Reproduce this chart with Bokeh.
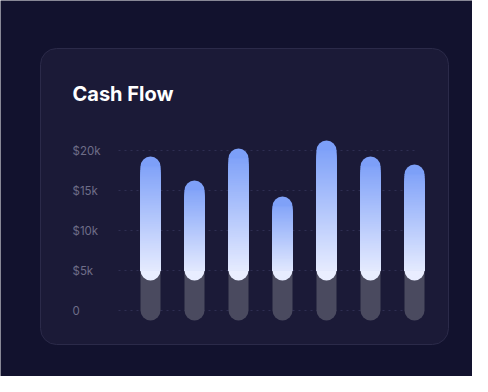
import numpy as np
from bokeh.plotting import figure
from bokeh.models import Range1d, BoxAnnotation, Label, ColumnDataSource
from bokeh.core.properties import value
from bokeh.embed import file_html
from bokeh.resources import INLINE

# ---- data ----
values = [18000, 15000, 19000, 13000, 20000, 18000, 17000]
base = [5000, 5000, 5000, 5000, 5000, 5000, 5000]
tick_values = [0, 5000, 10000, 15000, 20000]
tick_labels = ["0", "$5k", "$10k", "$15k", "$20k"]
title_text = "Cash Flow"

# ---- layout (figure pixel space) ----
W, H = 472, 376
PX_X = 44.0      # px per bar slot
X0 = 150.0       # px of first bar centre
PX_Y = 0.008     # px per dollar
Y0 = 310.0       # px of zero line
BAR_PX = 20
CAP = (BAR_PX / 2) / PX_Y   # cap radius in dollars


def xd(px):
    return (px - X0) / PX_X


def yd(px):
    return (Y0 - px) / PX_Y


p = figure(width=W, height=H, output_backend="svg", toolbar_location=None,
           x_range=Range1d(xd(0), xd(W)), y_range=Range1d(yd(H), yd(0)),
           x_axis_location=None, y_axis_location=None,
           min_border=0, min_border_left=0, min_border_right=0,
           min_border_top=0, min_border_bottom=0)
p.grid.visible = False
p.outline_line_color = None
p.background_fill_color = "#12122e"
p.border_fill_color = "#12122e"

# card
card = BoxAnnotation(left=xd(40), right=xd(448), top=yd(48), bottom=yd(344),
                     fill_color="#1b1a37", fill_alpha=1.0,
                     line_color="#2b2a49", line_alpha=1.0, line_width=1,
                     border_radius=16, level="underlay")
p.add_layout(card)

# title
p.add_layout(Label(x=xd(72), y=yd(93), text=title_text, text_font="Inter",
                   text_font_size="20px", text_font_style="bold",
                   text_color="#ffffff", text_baseline="alphabetic",
                   text_align="left"))

# grid lines
n_t = len(tick_values)
p.segment(x0=[xd(118)] * n_t, x1=[xd(416)] * n_t, y0=tick_values, y1=tick_values,
          line_color="#2f2e52", line_width=1, line_dash="2 4")

# tick labels
p.text(x=[xd(72)] * n_t, y=tick_values, text=tick_labels,
       text_font=value("Inter"), text_font_size="11.5px",
       text_color="#6e6d88", text_baseline="middle", text_align="left")

idx = list(range(len(values)))

# grey base bars
p.segment(x0=idx, y0=[0] * len(idx), x1=idx, y1=base,
          line_width=BAR_PX, line_cap="round", line_color="#4a4a5f")

# gradient bars
top_rgb = np.array([120, 156, 248])
bot_rgb = np.array([238, 241, 255])


def col(f):
    c = top_rgb + (bot_rgb - top_rgb) * f
    return "#%02x%02x%02x" % tuple(int(round(v)) for v in c)


N = 60
sx, stop, sbot, scol = [], [], [], []
cx, cy, ccol = [], [], []
for i, (v, b) in enumerate(zip(values, base)):
    vis_top = v + CAP
    vis_bot = b - CAP
    span = vis_top - vis_bot
    cx += [i, i]
    cy += [v, b]
    ccol += [col(CAP * 0.5 / span), col(1 - CAP * 0.5 / span)]
    for k in range(N):
        t = v - (v - b) * k / N
        tmid = t - (v - b) / N / 2
        sx.append(i)
        stop.append(t)
        sbot.append(b)
        scol.append(col((vis_top - tmid) / span))

p.scatter(x=cx, y=cy, size=BAR_PX, marker="circle", fill_color=ccol, line_color=None)
src = ColumnDataSource(dict(x=sx, top=stop, bottom=sbot, c=scol))
p.vbar(x="x", top="top", bottom="bottom", width=BAR_PX / PX_X, source=src,
       fill_color="c", line_color=None)

open("out.html", "w").write(file_html(p, INLINE))
